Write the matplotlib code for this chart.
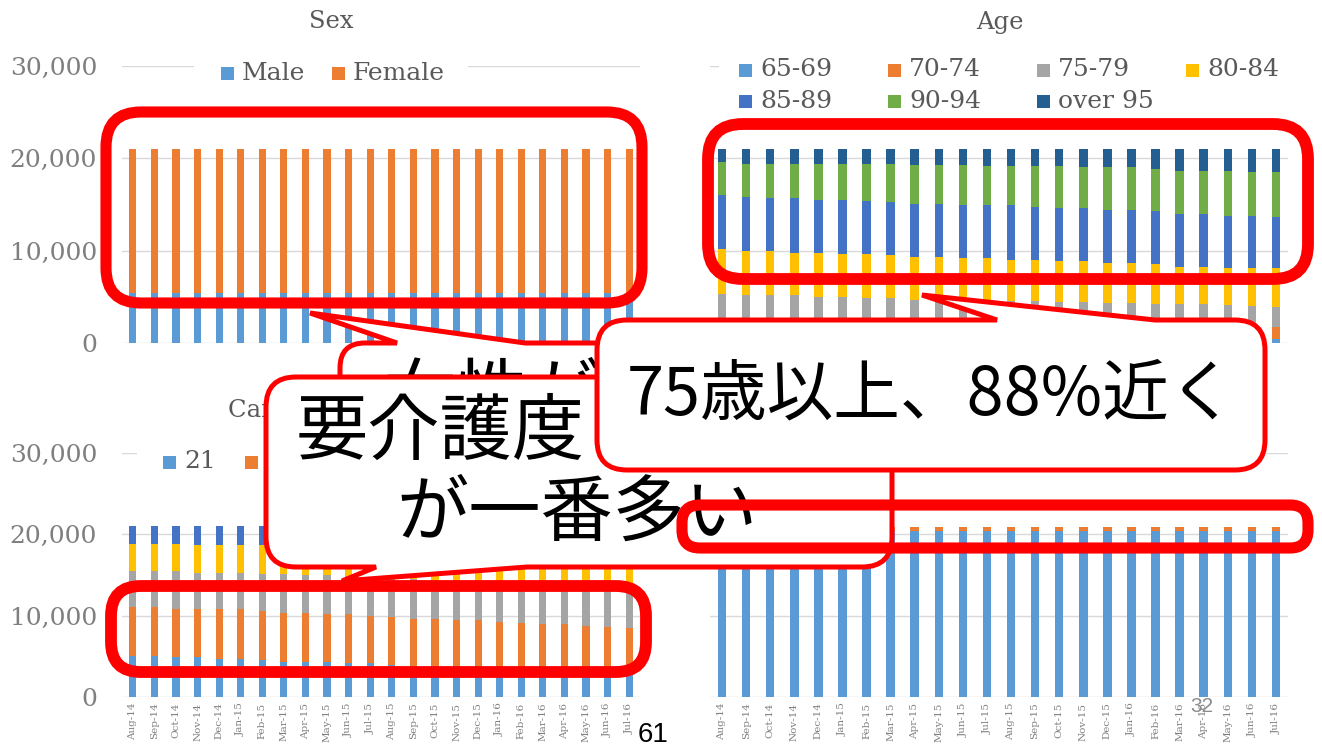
import matplotlib
matplotlib.use('Agg')
import matplotlib.pyplot as plt
from matplotlib.path import Path
from matplotlib.patches import PathPatch, Rectangle

#### data
months = ['Aug-14', 'Sep-14', 'Oct-14', 'Nov-14', 'Dec-14', 'Jan-15', 'Feb-15', 'Mar-15',
          'Apr-15', 'May-15', 'Jun-15', 'Jul-15', 'Aug-15', 'Sep-15', 'Oct-15', 'Nov-15',
          'Dec-15', 'Jan-16', 'Feb-16', 'Mar-16', 'Apr-16', 'May-16', 'Jun-16', 'Jul-16']
ytick_vals = [0, 10000, 20000, 30000]
ytick_labels = ['0', '10,000', '20,000', '30,000']

sex_labels = ['Male', 'Female']
male = [5380, 5400, 5400, 5390, 5380, 5390, 5400, 5410, 5390, 5400, 5410, 5400,
        5390, 5380, 5390, 5400, 5390, 5380, 5400, 5410, 5390, 5400, 5410, 5390]
female = [15620, 15600, 15600, 15610, 15620, 15610, 15600, 15590, 15610, 15600, 15590, 15600,
          15610, 15620, 15610, 15600, 15610, 15620, 15600, 15590, 15610, 15600, 15590, 15610]

age_labels = ['65-69', '70-74', '75-79', '80-84', '85-89', '90-94', 'over 95']
age_6569 = [300, 310, 310, 320, 320, 330, 330, 340, 340, 350, 350, 360,
            360, 370, 380, 380, 390, 400, 410, 420, 430, 440, 450, 470]
age_7074 = [1050, 1060, 1060, 1080, 1080, 1090, 1100, 1100, 1110, 1120, 1130, 1130,
            1140, 1150, 1160, 1170, 1180, 1190, 1200, 1210, 1220, 1230, 1240, 1260]
age_7579 = [3980, 3780, 3780, 3750, 3570, 3550, 3440, 3430, 3240, 3220, 3120, 3110,
            3000, 2980, 2860, 2850, 2790, 2770, 2640, 2550, 2530, 2400, 2270, 2160]
age_8084 = [4800, 4800, 4800, 4650, 4830, 4690, 4790, 4610, 4610, 4610, 4590, 4590,
            4510, 4510, 4470, 4470, 4330, 4330, 4330, 4040, 4040, 4040, 4150, 4220]
age_8589 = [5910, 5910, 5760, 5910, 5730, 5870, 5770, 5760, 5770, 5770, 5770, 5770,
            5950, 5770, 5760, 5760, 5760, 5760, 5690, 5760, 5760, 5690, 5690, 5590]
age_9094 = [3530, 3530, 3680, 3680, 3860, 3860, 3960, 4150, 4210, 4210, 4320, 4180,
            4180, 4360, 4510, 4400, 4580, 4580, 4580, 4690, 4690, 4870, 4690, 4790]
age_95 = [1430, 1610, 1610, 1610, 1610, 1610, 1610, 1610, 1720, 1720, 1720, 1860,
          1860, 1860, 1860, 1970, 1970, 1970, 2150, 2330, 2330, 2330, 2510, 2510]

care_labels = ['21', '22', '23', '24', '25']
care_21 = [5070, 5070, 4870, 4870, 4660, 4660, 4540, 4340, 4340, 4340, 4130, 4130,
           3930, 3800, 3800, 3800, 3750, 3700, 3650, 3620, 3560, 3520, 3480, 3430]
care_22 = [6010, 6010, 6010, 5890, 6100, 6100, 6010, 6010, 6010, 5840, 6050, 5850,
           5930, 5850, 5850, 5690, 5740, 5580, 5470, 5340, 5400, 5230, 5070, 5000]
care_23 = [4380, 4380, 4580, 4540, 4540, 4540, 4620, 4820, 4620, 4790, 4670, 4770,
           4740, 4800, 4650, 4760, 4710, 4870, 4980, 5090, 5040, 5200, 5350, 5420]
care_24 = [3400, 3400, 3400, 3350, 3350, 3350, 3480, 3430, 3630, 3580, 3700, 3750,
           3900, 4000, 4150, 4150, 4200, 4250, 4250, 4300, 4300, 4350, 4350, 4400]
care_25 = [2140, 2140, 2140, 2350, 2350, 2350, 2350, 2400, 2400, 2450, 2450, 2500,
           2500, 2550, 2550, 2600, 2600, 2600, 2650, 2650, 2700, 2700, 2750, 2750]

svc_a = [20380, 20390, 20400, 20400, 20410, 20400, 20410, 20400, 20400, 20410, 20420, 20400,
         20410, 20400, 20420, 20410, 20400, 20410, 20420, 20410, 20400, 20410, 20420, 20410]
svc_b = [520, 510, 500, 500, 490, 500, 490, 500, 500, 490, 480, 500,
         490, 500, 480, 490, 500, 490, 480, 490, 500, 490, 480, 490]

note_a = '女性が多い'
note_b1 = '要介護度１と２'
note_b2 = 'が一番多い'
note_c = '75歳以上、88%近く'

#### colours (office palette)
BLUE = '#5B9BD5'
ORANGE = '#ED7D31'
GRAY = '#A5A5A5'
YELLOW = '#FFC000'
DBLUE = '#4472C4'
GREEN = '#70AD47'
NAVY = '#255E91'
RED = '#FF0000'
GRID = '#D9D9D9'
TXT = '#7F7F7F'

plt.rcParams['font.family'] = 'DejaVu Serif'
JP = ['Noto Sans CJK JP', 'DejaVu Sans']

W, H = 1322, 747
fig = plt.figure(figsize=(W / 100, H / 100), dpi=100)
fig.patch.set_facecolor('white')


def fx(x):
    return x / W


def fy(y):
    return 1 - y / H


def add_ax(x0, x1, ytop, ybot):
    return fig.add_axes([fx(x0), fy(ybot), (x1 - x0) / W, (ybot - ytop) / H])


ax_sex = add_ax(122, 640, 66, 343)
ax_age = add_ax(710, 1288, 66, 343)
ax_care = add_ax(122, 640, 453, 697)
ax_svc = add_ax(710, 1288, 453, 697)

x = list(range(len(months)))


def stack(ax, series, colors, width):
    bottom = [0] * len(x)
    for vals, c in zip(series, colors):
        ax.bar(x, vals, width=width, bottom=bottom, color=c, linewidth=0, zorder=2)
        bottom = [b + v for b, v in zip(bottom, vals)]


stack(ax_sex, [male, female], [BLUE, ORANGE], 0.33)
stack(ax_age, [age_6569, age_7074, age_7579, age_8084, age_8589, age_9094, age_95],
      [BLUE, ORANGE, GRAY, YELLOW, DBLUE, GREEN, NAVY], 0.35)
stack(ax_care, [care_21, care_22, care_23, care_24, care_25],
      [BLUE, ORANGE, GRAY, YELLOW, DBLUE], 0.33)
stack(ax_svc, [svc_a, svc_b], [BLUE, ORANGE], 0.35)

for ax in [ax_sex, ax_age, ax_care, ax_svc]:
    ax.set_xlim(-0.5, len(x) - 0.5)
    ax.set_ylim(0, 30000)
    ax.set_yticks(ytick_vals)
    ax.yaxis.grid(True, color=GRID, linewidth=1.0, zorder=0)
    ax.set_axisbelow(True)
    for s in ax.spines.values():
        s.set_visible(False)
    ax.tick_params(length=0, colors=TXT)
    ax.set_facecolor('none')

for ax in [ax_sex, ax_care]:
    ax.set_yticklabels(ytick_labels, fontsize=18, color=TXT)
    ax.tick_params(axis='y', pad=18)
for ax in [ax_age, ax_svc]:
    ax.set_yticklabels([])
for ax in [ax_sex, ax_age]:
    ax.set_xticks([])
for ax in [ax_care, ax_svc]:
    ax.set_xticks(x)
    ax.set_xticklabels(months, rotation=90, fontsize=7.5, color=TXT)
    ax.tick_params(axis='x', pad=4)

# titles
fig.text(fx(331), fy(22), 'Sex', ha='center', va='center', fontsize=17.5, color='#595959')
fig.text(fx(1000), fy(22), 'Age', ha='center', va='center', fontsize=17.5, color='#595959')
fig.text(fx(331), fy(410), 'Care Need Level', ha='center', va='center', fontsize=17.5,
         color='#595959')


# legends drawn by hand so columns keep an even pitch like the Excel ones
def legend(labels, colors, x0, y0, pitch, row_h, ncol, bg):
    fig.add_artist(Rectangle((fx(bg[0]), fy(bg[3])), (bg[1] - bg[0]) / W, (bg[3] - bg[2]) / H,
                             transform=fig.transFigure, facecolor='white', edgecolor='none',
                             zorder=2))
    for i, (lab, c) in enumerate(zip(labels, colors)):
        cx = x0 + (i % ncol) * pitch
        cy = y0 + (i // ncol) * row_h
        fig.add_artist(Rectangle((fx(cx), fy(cy + 6.5)), 13 / W, 13 / H,
                                 transform=fig.transFigure, facecolor=c, edgecolor='none',
                                 zorder=3))
        fig.text(fx(cx + 21), fy(cy), lab, ha='left', va='center', fontsize=18,
                 color='#595959', zorder=3)


legend(sex_labels, [BLUE, ORANGE], 221, 73, 111, 0, 2, (194, 468, 58, 88))
legend(age_labels, [BLUE, ORANGE, GRAY, YELLOW, DBLUE, GREEN, NAVY], 739, 70, 149, 31, 4,
       (719, 1288, 55, 116))
legend(care_labels, [BLUE, ORANGE, GRAY, YELLOW, DBLUE], 163, 462, 82, 0, 5, (137, 600, 446, 478))


# rounded boxes / callouts in slide pixels
def box_path(x0, y0, x1, y1, r, top_tail=None, bottom_tail=None):
    verts, codes = [], []

    def mv(p):
        verts.append(p)
        codes.append(Path.MOVETO)

    def ln(p):
        verts.append(p)
        codes.append(Path.LINETO)

    def cv(c, p):
        verts.extend([c, p])
        codes.extend([Path.CURVE3, Path.CURVE3])

    mv((x0 + r, y0))
    if top_tail:
        a, tip, b = top_tail
        ln((a, y0))
        ln(tip)
        ln((b, y0))
    ln((x1 - r, y0))
    cv((x1, y0), (x1, y0 + r))
    ln((x1, y1 - r))
    cv((x1, y1), (x1 - r, y1))
    if bottom_tail:
        b, tip, a = bottom_tail
        ln((b, y1))
        ln(tip)
        ln((a, y1))
    ln((x0 + r, y1))
    cv((x0, y1), (x0, y1 - r))
    ln((x0, y0 + r))
    cv((x0, y0), (x0 + r, y0))
    verts.append((x0 + r, y0))
    codes.append(Path.CLOSEPOLY)
    return Path([(fx(px), fy(py)) for px, py in verts], codes)


def add_box(path, z, fill, lw):
    fig.add_artist(PathPatch(path, transform=fig.transFigure, facecolor=fill,
                             edgecolor=RED, linewidth=lw, zorder=z))


# red frames
add_box(box_path(106, 112, 642, 303, 35), 9, 'none', 8)
add_box(box_path(708, 124, 1308, 279, 35), 9, 'none', 8.5)

# callout A (mostly hidden)
add_box(box_path(340, 343, 640, 470, 25, top_tail=(397, (310, 313), 525)), 10, 'white', 3.6)
fig.text(fx(383), fy(397), note_a, ha='left', va='center', fontsize=52, family=JP, zorder=11)

# callout B
add_box(box_path(266, 377, 892, 567, 30, bottom_tail=(527, (342, 581), 376)), 12, 'white', 3.6)
fig.text(fx(296), fy(433), note_b1, ha='left', va='center', fontsize=52, family=JP, zorder=13)
fig.text(fx(396), fy(514), note_b2, ha='left', va='center', fontsize=52, family=JP, zorder=13)

# callout C
add_box(box_path(597, 320, 1265, 470, 30, top_tail=(997, (922, 295), 1155)), 14, 'white', 3.6)
fig.text(fx(931), fy(396), note_c, ha='center', va='center', fontsize=48, family=JP, zorder=15)

add_box(box_path(111, 586, 646, 672, 30), 16, 'none', 8.5)
add_box(box_path(682, 505, 1308, 548, 18), 16, 'none', 8)

# page numbers
fig.text(fx(653), fy(735), '61', ha='center', va='center', fontsize=20,
         family='Liberation Sans', zorder=20)
fig.text(fx(1202), fy(707), '32', ha='center', va='center', fontsize=15,
         family='Liberation Sans', color='#8C8C8C', zorder=20)

fig.savefig('out.png', dpi=100, facecolor='white')
